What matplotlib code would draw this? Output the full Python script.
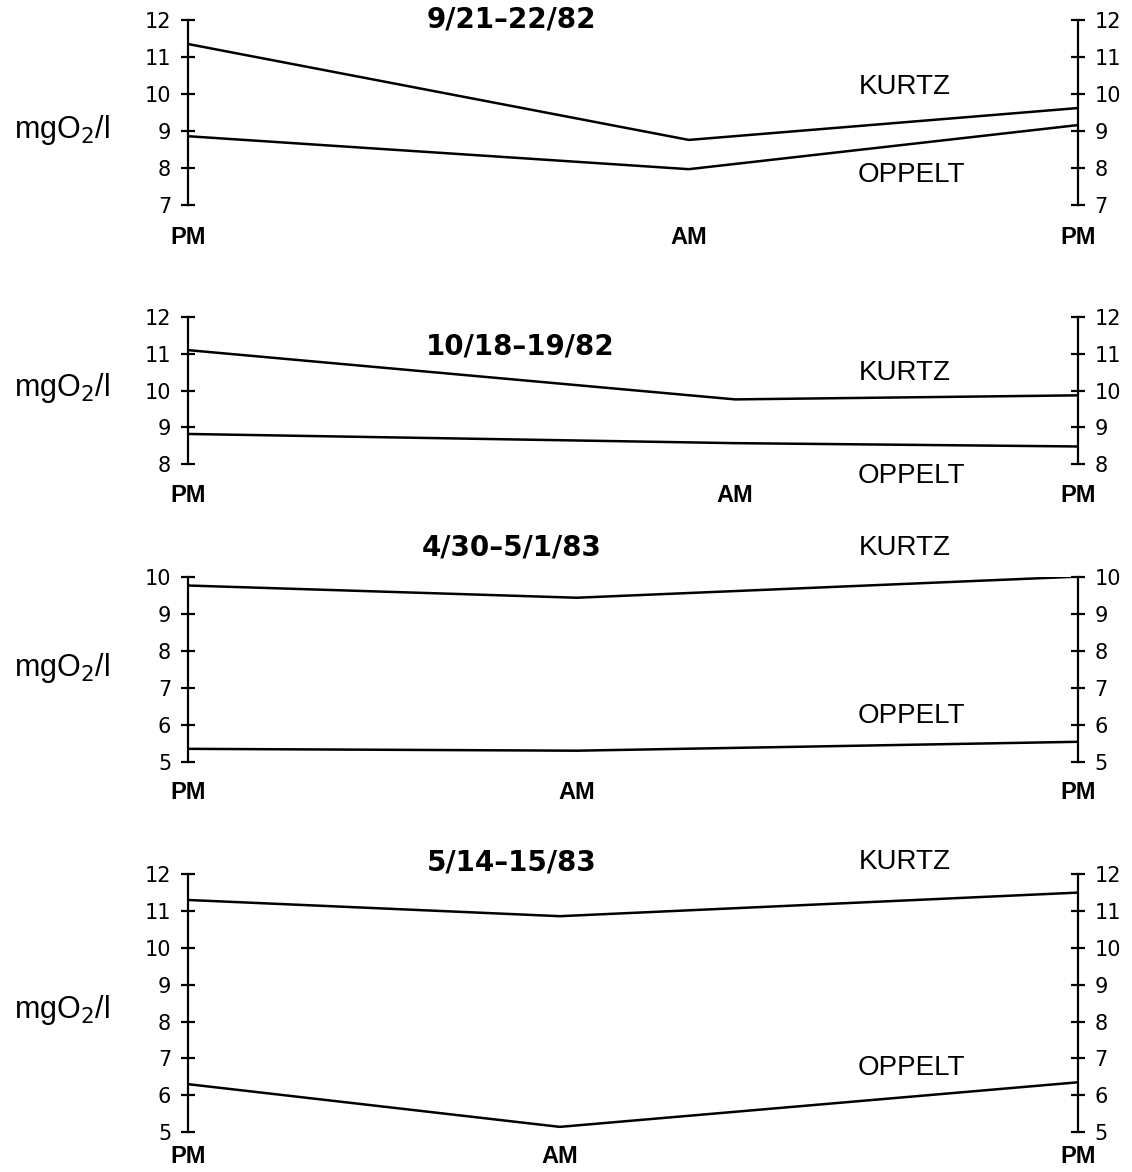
import matplotlib.pyplot as plt

plt.rcParams['font.family'] = ['Liberation Sans', 'DejaVu Sans']

# sampling times: PM, AM, PM
time_labels = ['PM', 'AM', 'PM']
dates = ['9/21\u201322/82', '10/18\u201319/82', '4/30\u20135/1/83', '5/14\u201315/83']
# relative position of the AM sample on each time axis
am_pos = [0.563, 0.615, 0.437, 0.418]

kurtz = [
    [11.35, 8.76, 9.62],
    [11.10, 9.76, 9.87],
    [9.76, 9.43, 10.0],
    [11.30, 10.86, 11.50],
]
oppelt = [
    [8.86, 7.97, 9.16],
    [8.82, 8.57, 8.48],
    [5.35, 5.30, 5.54],
    [6.30, 5.14, 6.35],
]
ylims = [(7, 12), (8, 12), (5, 10), (5, 12)]

# axes boxes [left, bottom, width, height] in figure fraction
boxes = [
    [0.166, 0.825, 0.786, 0.158],
    [0.166, 0.604, 0.786, 0.1255],
    [0.166, 0.350, 0.786, 0.158],
    [0.166, 0.0341, 0.786, 0.220],
]
# label positions in axes fraction
ylab_y = [0.405, 0.517, 0.508, 0.473]
title_xy = [(0.364, 1.0), (0.373, 0.80), (0.364, 1.157), (0.364, 1.047)]
kurtz_y = [0.638, 0.619, 1.157, 1.047]
oppelt_y = [0.162, -0.082, 0.249, 0.248]
ampm_pad = [15, 14, 14, 9]

fig = plt.figure(figsize=(11.32, 11.72), dpi=100)

for i in range(4):
    ax = fig.add_axes(boxes[i])
    x = [0, am_pos[i], 1]
    ax.plot(x, kurtz[i], color='black', lw=1.8, solid_joinstyle='miter')
    ax.plot(x, oppelt[i], color='black', lw=1.8, solid_joinstyle='miter')

    lo, hi = ylims[i]
    ax.set_xlim(0, 1)
    ax.set_ylim(lo, hi)
    ax.set_yticks(range(lo, hi + 1))
    ax.tick_params(axis='y', direction='inout', length=10, width=1.6,
                   left=True, right=True, labelleft=True, labelright=True,
                   labelsize=15, pad=7)
    for lab in ax.get_yticklabels():
        lab.set_family('DejaVu Sans')
    ax.set_xticks(x)
    ax.set_xticklabels(time_labels, fontsize=17, fontweight='bold')
    ax.tick_params(axis='x', length=0, pad=ampm_pad[i])

    for s in ['top', 'bottom']:
        ax.spines[s].set_visible(False)
    for s in ['left', 'right']:
        ax.spines[s].set_linewidth(1.6)

    ax.text(-0.142, ylab_y[i], 'mgO$_2$/l', transform=ax.transAxes,
            ha='center', va='center', fontsize=22)
    ax.text(title_xy[i][0], title_xy[i][1], dates[i], transform=ax.transAxes,
            ha='center', va='center', fontsize=20, fontweight='bold',
            family='DejaVu Sans')
    ax.text(0.806, kurtz_y[i], 'KURTZ', transform=ax.transAxes,
            ha='center', va='center', fontsize=20)
    ax.text(0.813, oppelt_y[i], 'OPPELT', transform=ax.transAxes,
            ha='center', va='center', fontsize=20)

fig.savefig('out.png', dpi=100)
